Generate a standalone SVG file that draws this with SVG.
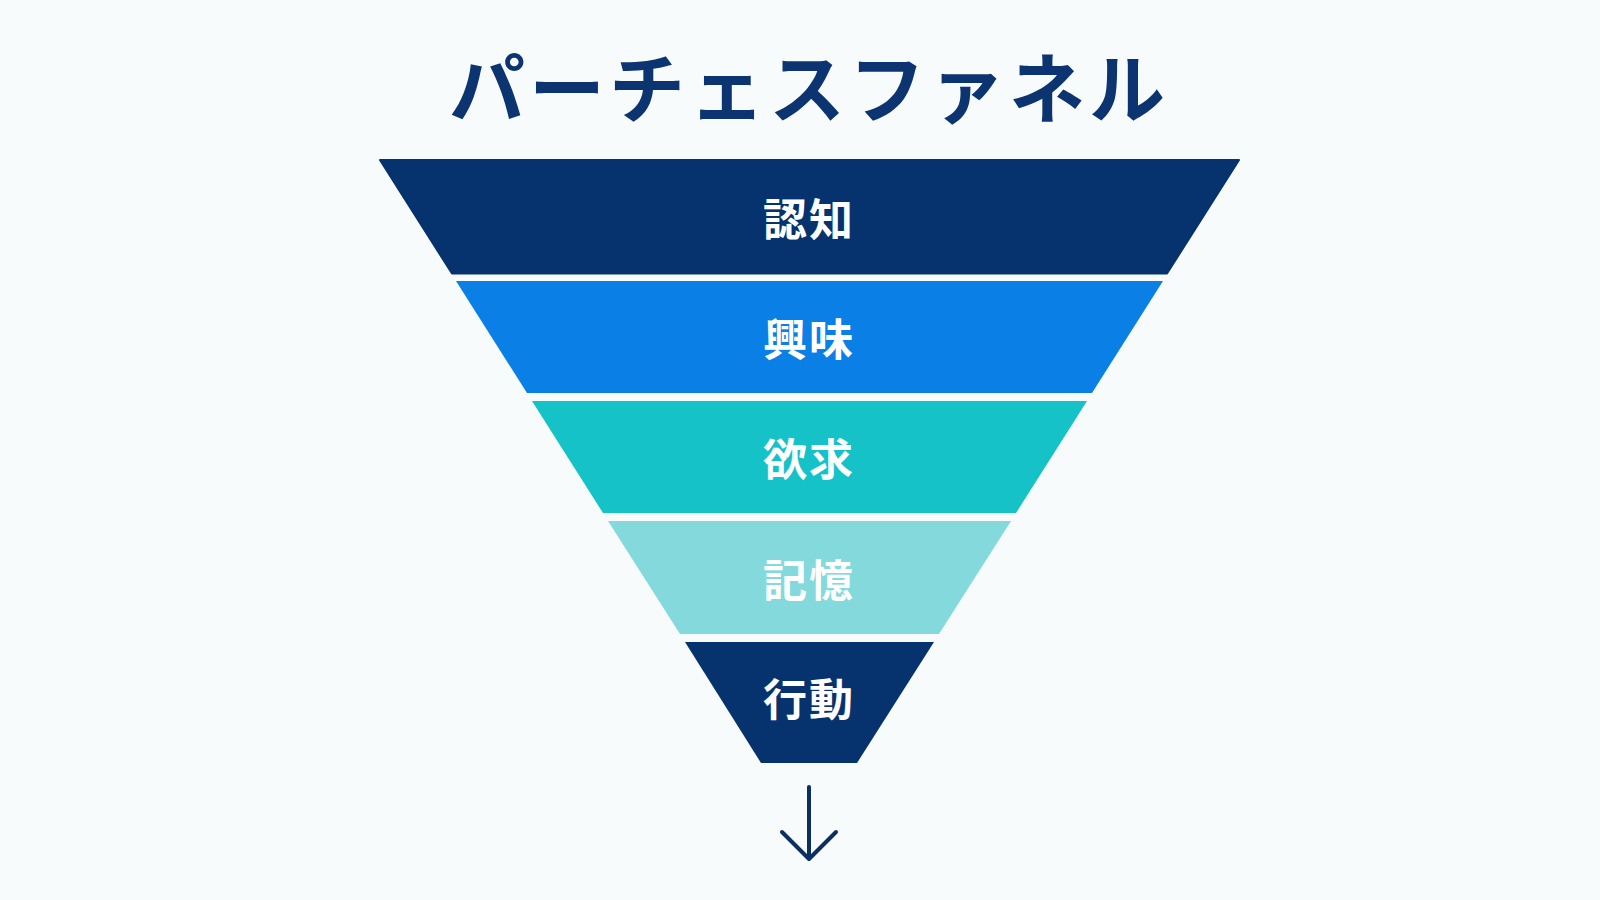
<svg xmlns="http://www.w3.org/2000/svg" width="1600" height="900" viewBox="0 0 1600 900">
<style>
.lbl{font-family:"Noto Sans CJK JP","Noto Sans",sans-serif;font-weight:700;font-size:44px;fill:#ffffff;text-anchor:middle;dominant-baseline:central;letter-spacing:2px}
.title{font-family:"Noto Sans CJK JP","Noto Sans",sans-serif;font-weight:700;font-size:76px;fill:#0b3470;text-anchor:middle;letter-spacing:4px}
</style>
<rect width="1600" height="900" fill="#f8fbfc"/>
<text class="title" x="809" y="117">パーチェスファネル</text>
<g id="n1"><polygon points="380,160 1239,160 1167,273.5 452,273.5" fill="#06326e" stroke="#06326e" stroke-width="2" stroke-linejoin="round"/><text class="lbl" x="809" y="217">認知</text></g>
<g id="n2"><polygon points="456,281 1163,281 1092,393 527,393" fill="#0a80e6"/><text class="lbl" x="809" y="337">興味</text></g>
<g id="n3"><polygon points="532,401 1087,401 1016,513 603,513" fill="#14c2c8"/><text class="lbl" x="809" y="457">欲求</text></g>
<g id="n4"><polygon points="608,521 1011,521 939,634 680,634" fill="#84d9dc"/><text class="lbl" x="809" y="578">記憶</text></g>
<g id="n5"><polygon points="685,642 934,642 857,763 761,763" fill="#06326e"/><text class="lbl" x="809" y="697">行動</text></g>
<g id="connectors" fill="none" stroke="#0b2f62" stroke-width="4" stroke-linecap="round" stroke-linejoin="round">
<line x1="809" y1="787" x2="809" y2="858"/>
<polyline points="782,832 809,859 836,832"/>
</g>
</svg>
